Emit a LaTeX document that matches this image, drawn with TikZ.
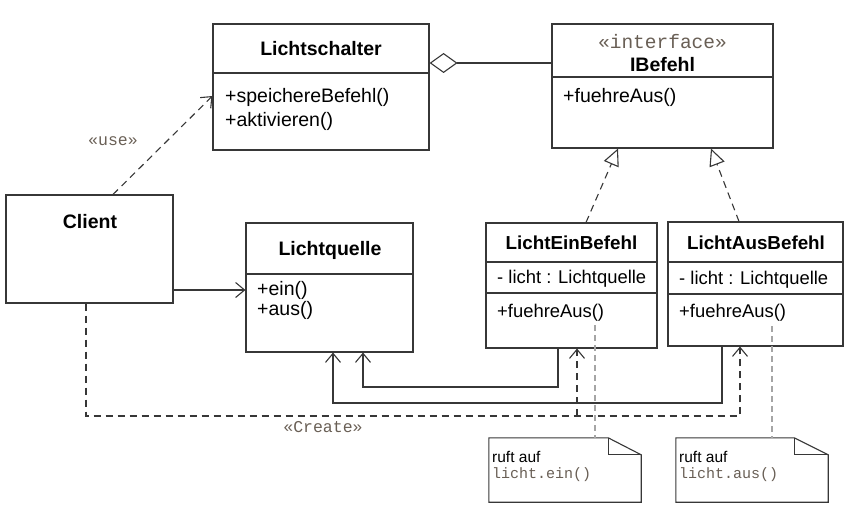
\documentclass[tikz,border=0pt]{standalone}
\usepackage{fontspec}
\setmainfont{Liberation Sans}
\setmonofont{Liberation Mono}
\usetikzlibrary{arrows.meta,calc}
\definecolor{linec}{RGB}{55,55,55}
\definecolor{stereo}{RGB}{105,95,85}
\definecolor{notec}{RGB}{165,165,165}
\begin{document}
\begin{tikzpicture}[x=1pt,y=-1pt,
  box/.style={draw=linec,line width=1.1pt,fill=white,inner sep=0pt,rectangle},
  divider/.style={draw=linec,line width=1.1pt},
  ttl/.style={font=\fontsize{19.5}{22}\selectfont\bfseries,inner sep=0pt},
  ttls/.style={font=\fontsize{18.8}{22}\selectfont\bfseries,inner sep=0pt},
  mth/.style={font=\fontsize{19.5}{22}\selectfont,inner sep=0pt,anchor=west},
  mths/.style={font=\fontsize{18.4}{22}\selectfont,inner sep=0pt,anchor=west},
  stereotype/.style={font=\ttfamily\fontsize{16.5}{20}\selectfont,text=stereo,inner sep=0pt},
  stereobig/.style={font=\ttfamily\fontsize{19.5}{22}\selectfont,text=stereo,inner sep=0pt},
  notetxt/.style={font=\fontsize{15.5}{18}\selectfont,inner sep=0pt,anchor=west},
  notecode/.style={font=\ttfamily\fontsize{15}{18}\selectfont,text=stereo,inner sep=0pt,anchor=west},
  notebox/.style={inner sep=0pt,minimum width=152pt,minimum height=64pt},
  conn/.style={draw=linec,line width=1.1pt},
  dashedconn/.style={conn,dash pattern=on 7pt off 5pt},
  notelink/.style={draw=notec,line width=1.1pt,dash pattern=on 6pt off 4pt},
  openarrow/.style={-{Straight Barb[length=9pt,width=15pt]}},
  realize/.style={-{Triangle[open,length=17pt,width=16pt,fill=white]}},
]
\useasboundingbox (0,0) rectangle (851,527);

% Lichtschalter
\node[box,minimum width=216pt,minimum height=126pt] (ls) at (321,87) {};
\draw[divider] (ls.west |- 0,73) -- (ls.east |- 0,73);
\node[ttl] (lsT) at (321,49) {Lichtschalter};
\node[mth] (lsM1) at (225,97) {+speichereBefehl()};
\node[mth] (lsM2) at (225,121) {+aktivieren()};

% IBefehl
\node[box,minimum width=221pt,minimum height=124pt] (ib) at (662.5,86) {};
\draw[divider] (ib.west |- 0,77) -- (ib.east |- 0,77);
\node[stereobig] (ibS) at (662.5,42) {«interface»};
\node[ttl] (ibT) at (662.5,65) {IBefehl};
\node[mth] (ibM) at (563,97) {+fuehreAus()};

% Client
\node[box,minimum width=167pt,minimum height=108pt] (cl) at (89.5,249) {};
\node[ttl] (clT) at (90,222) {Client};

% Lichtquelle
\node[box,minimum width=167pt,minimum height=129pt] (lq) at (329.5,287.5) {};
\draw[divider] (lq.west |- 0,274) -- (lq.east |- 0,274);
\node[ttl] (lqT) at (330,250) {Lichtquelle};
\node[mth] (lqM1) at (257,290) {+ein()};
\node[mth] (lqM2) at (257,310) {+aus()};

% LichtEinBefehl
\node[box,minimum width=171pt,minimum height=125pt] (le) at (571.5,285.5) {};
\draw[divider] (le.west |- 0,262) -- (le.east |- 0,262);
\draw[divider] (le.west |- 0,293) -- (le.east |- 0,293);
\node[ttls] (leT) at (571.5,243) {LichtEinBefehl};
\node[mths] (leA) at (497,279) {- licht : Lichtquelle};
\node[mths] (leM) at (497,313) {+fuehreAus()};

% LichtAusBefehl
\node[box,minimum width=175pt,minimum height=124pt] (la) at (755.5,284) {};
\draw[divider] (la.west |- 0,262) -- (la.east |- 0,262);
\draw[divider] (la.west |- 0,294) -- (la.east |- 0,294);
\node[ttls] (laT) at (756,243) {LichtAusBefehl};
\node[mths] (laA) at (679,280) {- licht : Lichtquelle};
\node[mths] (laM) at (679,313) {+fuehreAus()};

% Notes
\node[notebox] (n1) at (565,470) {};
\draw[conn,fill=white] (n1.north west) -- ($(n1.north east)+(-33,0)$) -- ($(n1.north east)+(0,17)$) -- (n1.south east) -- (n1.south west) -- cycle;
\draw[conn] ($(n1.north east)+(-33,0)$) -- ($(n1.north east)+(-33,17)$) -- ($(n1.north east)+(0,17)$);
\node[notetxt] (n1a) at (492,457) {ruft auf};
\node[notecode] (n1b) at (492,475) {licht.ein()};

\node[notebox] (n2) at (752,470) {};
\draw[conn,fill=white] (n2.north west) -- ($(n2.north east)+(-34,0)$) -- ($(n2.north east)+(0,17)$) -- (n2.south east) -- (n2.south west) -- cycle;
\draw[conn] ($(n2.north east)+(-34,0)$) -- ($(n2.north east)+(-34,17)$) -- ($(n2.north east)+(0,17)$);
\node[notetxt] (n2a) at (679,457) {ruft auf};
\node[notecode] (n2b) at (679,475) {licht.aus()};

% use dependency
\draw[dashedconn,openarrow] (cl.north -| 113,0) -- (ls.west |- 0,96);
\node[stereotype] (useL) at (113,141) {«use»};

% Client -> Lichtquelle
\draw[conn,openarrow] (cl.east |- 0,290) -- (lq.west |- 0,290);

% aggregation
\draw[conn,{Diamond[open,length=28pt,width=20pt,fill=white]}-] (ls.east |- 0,63) -- (ib.west |- 0,63);

% realizations
\draw[dashedconn,realize] (le.north -| 586,0) -- (ib.south -| 618,0);
\draw[dashedconn,realize] (la.north -| 739,0) -- (ib.south -| 711,0);

% associations to Lichtquelle
\draw[conn,openarrow] (le.south -| 558,0) |- (363,387) -- (lq.south -| 363,0);
\draw[conn,openarrow] (la.south -| 722,0) |- (333,403) -- (lq.south -| 333,0);

% create dependencies
\coordinate (cbr) at (577,416);
\draw[dashedconn,openarrow] (cl.south -| 86,0) |- (740,416) -- (la.south -| 740,0);
\draw[dashedconn,openarrow] (cbr) -- (le.south -| 577,0);
\node[stereotype] (crL) at (323,427) {«Create»};

% note links
\coordinate (leN) at (595,325);
\coordinate (laN) at (772,326);
\draw[notelink] (leN) -- (n1.north -| 595,0);
\draw[notelink] (laN) -- (n2.north -| 772,0);
\end{tikzpicture}
\end{document}
